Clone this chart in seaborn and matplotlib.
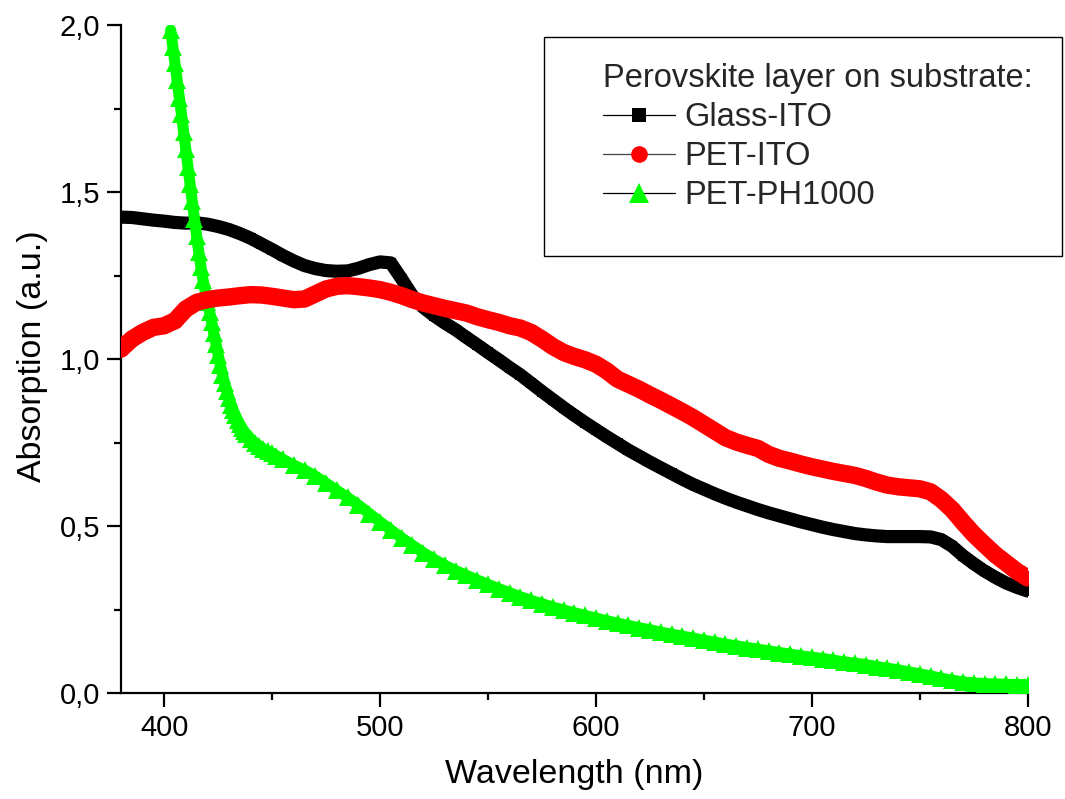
import matplotlib
matplotlib.use("Agg")
import matplotlib.pyplot as plt
from matplotlib.lines import Line2D
from matplotlib.patches import Rectangle
import seaborn as sns

# ---------------- data ----------------
glass_wl = [380, 385, 390, 395, 400, 405, 410, 415, 420, 425, 430, 435, 440, 445, 450,
            455, 460, 465, 470, 475, 480, 485, 490, 495, 500, 505, 510, 515, 520, 525,
            530, 535, 540, 545, 550, 555, 560, 565, 570, 575, 580, 585, 590, 595, 600,
            605, 610, 615, 620, 625, 630, 635, 640, 645, 650, 655, 660, 665, 670, 675,
            680, 685, 690, 695, 700, 705, 710, 715, 720, 725, 730, 735, 740, 745, 750,
            755, 760, 765, 770, 775, 780, 785, 790, 795, 800]
glass_abs = [1.425, 1.424, 1.420, 1.416, 1.413, 1.409, 1.407, 1.408, 1.404, 1.397,
             1.388, 1.376, 1.362, 1.345, 1.328, 1.310, 1.294, 1.280, 1.271, 1.265,
             1.263, 1.264, 1.272, 1.283, 1.291, 1.288, 1.240, 1.190, 1.155, 1.130,
             1.108, 1.088, 1.065, 1.043, 1.020, 0.998, 0.975, 0.953, 0.928, 0.903,
             0.879, 0.855, 0.832, 0.810, 0.789, 0.768, 0.748, 0.728, 0.710, 0.692,
             0.675, 0.658, 0.641, 0.625, 0.611, 0.597, 0.584, 0.572, 0.561, 0.550,
             0.540, 0.531, 0.522, 0.513, 0.505, 0.497, 0.490, 0.484, 0.478, 0.474,
             0.471, 0.469, 0.469, 0.469, 0.469, 0.468, 0.460, 0.440, 0.412, 0.388,
             0.366, 0.347, 0.330, 0.317, 0.306]

petito_wl = glass_wl
petito_abs = [1.030, 1.060, 1.080, 1.095, 1.100, 1.115, 1.150, 1.170, 1.178, 1.183,
              1.186, 1.190, 1.193, 1.192, 1.188, 1.183, 1.178, 1.180, 1.195, 1.210,
              1.218, 1.220, 1.217, 1.213, 1.208, 1.200, 1.190, 1.178, 1.168, 1.160,
              1.152, 1.145, 1.138, 1.127, 1.118, 1.110, 1.100, 1.093, 1.080, 1.060,
              1.038, 1.020, 1.008, 0.998, 0.985, 0.965, 0.940, 0.925, 0.910, 0.893,
              0.877, 0.860, 0.843, 0.825, 0.805, 0.785, 0.765, 0.752, 0.742, 0.733,
              0.715, 0.703, 0.695, 0.686, 0.678, 0.671, 0.664, 0.658, 0.652, 0.643,
              0.632, 0.623, 0.618, 0.615, 0.612, 0.603, 0.580, 0.550, 0.512, 0.476,
              0.445, 0.415, 0.390, 0.365, 0.345]

ph1000_wl = [403, 404, 405, 406, 407, 408, 409, 410, 411, 412, 413, 414, 415, 416, 417,
             418, 419, 420, 421, 422, 423, 424, 425, 426, 427, 428, 429, 430, 431, 432,
             433, 434, 435, 436, 437, 438, 440, 442, 444, 446, 448, 450, 452, 455, 460,
             465, 470, 475, 480, 485, 490, 495, 500, 505, 510, 515, 520, 525, 530, 535,
             540, 545, 550, 555, 560, 565, 570, 575, 580, 585, 590, 595, 600, 605, 610,
             615, 620, 625, 630, 635, 640, 645, 650, 655, 660, 665, 670, 675, 680, 685,
             690, 695, 700, 705, 710, 715, 720, 725, 730, 735, 740, 745, 750, 755, 760,
             765, 770, 775, 780, 785, 790, 795, 800]
ph1000_abs = [1.985, 1.935, 1.885, 1.835, 1.783, 1.733, 1.680, 1.628, 1.576, 1.524,
              1.472, 1.420, 1.370, 1.322, 1.277, 1.237, 1.202, 1.172, 1.142, 1.110,
              1.077, 1.045, 1.013, 0.982, 0.953, 0.928, 0.905, 0.884, 0.864, 0.847,
              0.832, 0.818, 0.806, 0.795, 0.785, 0.776, 0.762, 0.750, 0.740, 0.732,
              0.725, 0.718, 0.711, 0.700, 0.683, 0.668, 0.650, 0.629, 0.607, 0.586,
              0.563, 0.538, 0.513, 0.489, 0.465, 0.443, 0.421, 0.401, 0.383, 0.367,
              0.353, 0.339, 0.326, 0.313, 0.301, 0.289, 0.278, 0.268, 0.258, 0.249,
              0.241, 0.233, 0.225, 0.217, 0.210, 0.203, 0.196, 0.190, 0.183, 0.177,
              0.171, 0.165, 0.159, 0.153, 0.147, 0.142, 0.137, 0.132, 0.127, 0.122,
              0.117, 0.112, 0.108, 0.104, 0.099, 0.094, 0.090, 0.086, 0.080, 0.075,
              0.070, 0.064, 0.058, 0.052, 0.045, 0.039, 0.034, 0.031, 0.029, 0.028,
              0.027, 0.026, 0.026]

series_labels = ["Glass-ITO", "PET-ITO", "PET-PH1000"]
legend_title = "Perovskite layer on substrate:"

x_ticks = [400, 500, 600, 700, 800]
x_tick_labels = ["400", "500", "600", "700", "800"]
x_minor = [450, 550, 650, 750]
y_ticks = [0.0, 0.5, 1.0, 1.5, 2.0]
y_tick_labels = ["0,0", "0,5", "1,0", "1,5", "2,0"]
y_minor = [0.25, 0.75, 1.25, 1.75]

# ---------------- style ----------------
sns.set_style("ticks")
plt.rcParams["font.family"] = ["Liberation Sans", "DejaVu Sans"]

fig = plt.figure(figsize=(10.65, 7.99), dpi=100)
ax = fig.add_axes([0.11362, 0.13229, 0.85136, 0.83642])

# black
sns.lineplot(x=glass_wl, y=glass_abs, ax=ax, color="#000000", lw=9.5,
             marker="s", markersize=6.5, markeredgewidth=0,
             estimator=None, sort=False, legend=False, zorder=2,
             solid_joinstyle="round")
# green
sns.lineplot(x=ph1000_wl, y=ph1000_abs, ax=ax, color="#00FF00", lw=8,
             marker="^", markersize=13, markeredgewidth=0,
             estimator=None, sort=False, legend=False, zorder=3,
             solid_joinstyle="round")
# red
sns.lineplot(x=petito_wl, y=petito_abs, ax=ax, color="#FF0000", lw=12.5,
             marker="o", markersize=11, markeredgewidth=0,
             estimator=None, sort=False, legend=False, zorder=4,
             solid_joinstyle="round")

ax.set_xlim(380, 800)
ax.set_ylim(0, 2.0)
ax.set_xticks(x_ticks)
ax.set_xticklabels(x_tick_labels)
ax.set_xticks(x_minor, minor=True)
ax.set_yticks(y_ticks)
ax.set_yticklabels(y_tick_labels)
ax.set_yticks(y_minor, minor=True)

sns.despine(ax=ax)
for s in ["left", "bottom"]:
    ax.spines[s].set_linewidth(1.6)
    ax.spines[s].set_color("black")

ax.tick_params(axis="both", which="major", direction="out", length=10, width=1.6,
               color="black", labelsize=21, labelcolor="black")
ax.tick_params(axis="x", which="major", pad=5)
ax.tick_params(axis="y", which="major", pad=5)
ax.tick_params(axis="both", which="minor", direction="out", length=5, width=1.6,
               color="black")

ax.set_xlabel("Wavelength (nm)", fontsize=24.5, color="black")
ax.set_ylabel("Absorption (a.u.)", fontsize=24.5, color="black")
ax.xaxis.set_label_coords(0.5, -0.098)
ax.yaxis.set_label_coords(-0.08, 0.505)

# legend
handles = [
    Line2D([], [], color="black", lw=0.9, marker="s", markersize=9.5,
           markerfacecolor="#000000", markeredgewidth=0),
    Line2D([], [], color="#444444", lw=0.9, marker="o", markersize=12,
           markerfacecolor="#FF0000", markeredgewidth=0),
    Line2D([], [], color="black", lw=0.9, marker="^", markersize=14,
           markerfacecolor="#00FF00", markeredgewidth=0),
]
leg = ax.legend(handles, series_labels, title=legend_title,
                loc="upper left", bbox_to_anchor=(603 / 1065, 1 - 63 / 799),
                bbox_transform=fig.transFigure, frameon=False,
                fontsize=23.5, title_fontsize=23.5, alignment="left",
                handlelength=2.2, handletextpad=0.3, labelspacing=0.25,
                borderpad=0, borderaxespad=0)

fig.patches.append(Rectangle((544 / 1065, 1 - 256 / 799), (1062 - 544) / 1065,
                             (256 - 37) / 799, transform=fig.transFigure,
                             fill=False, edgecolor="black", lw=1.0))

fig.savefig("out.png", dpi=100, facecolor="white")
